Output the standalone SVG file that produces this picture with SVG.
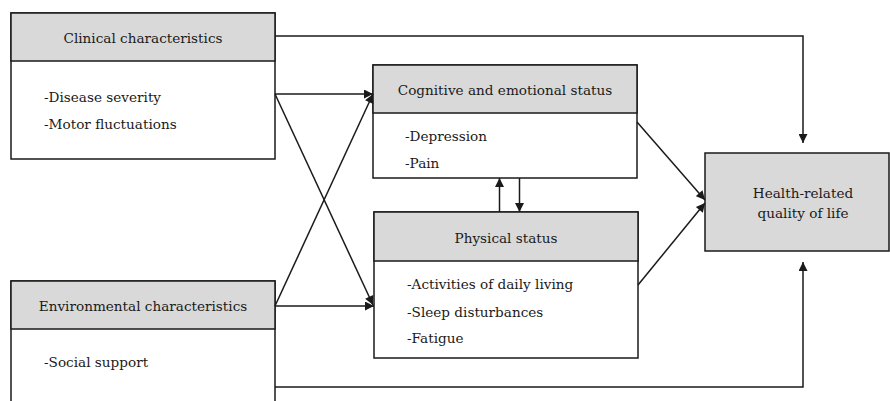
<svg xmlns="http://www.w3.org/2000/svg" width="890" height="401" viewBox="0 0 890 401">
<style>
.box{fill:#fff;stroke:#1a1a1a;stroke-width:1.5}
.hdr{fill:#d9d9d9;stroke:#1a1a1a;stroke-width:1.5}
.c{text-anchor:middle}
.ln{fill:none;stroke:#1a1a1a;stroke-width:1.5}
</style>
<defs>
<marker id="ah" viewBox="0 0 10 10" refX="10" refY="5" markerWidth="10" markerHeight="9" markerUnits="userSpaceOnUse" orient="auto">
<path d="M0,0 L10,5 L0,10 z" fill="#1a1a1a"/>
</marker>
</defs>
<rect width="890" height="401" fill="#fff"/>
<g font-family="DejaVu Serif, Liberation Serif, serif" font-size="13.6" fill="#1a1a1a">
<g id="clinical">
<rect class="box" x="11" y="13" width="264" height="146"/>
<rect class="hdr" x="11" y="13" width="264" height="48"/>
<text class="c" x="143" y="43">Clinical characteristics</text>
<text x="44" y="102">-Disease severity</text>
<text x="44" y="129">-Motor fluctuations</text>
</g>
<g id="environmental">
<rect class="box" x="11" y="281" width="264" height="130"/>
<rect class="hdr" x="11" y="281" width="264" height="48"/>
<text class="c" x="143" y="311">Environmental characteristics</text>
<text x="44" y="367">-Social support</text>
</g>
<g id="cognitive">
<rect class="box" x="373" y="65" width="264" height="113"/>
<rect class="hdr" x="373" y="65" width="264" height="48"/>
<text class="c" x="505" y="95">Cognitive and emotional status</text>
<text x="405" y="141">-Depression</text>
<text x="405" y="168">-Pain</text>
</g>
<g id="physical">
<rect class="box" x="374" y="212" width="264" height="146"/>
<rect class="hdr" x="374" y="212" width="264" height="49"/>
<text class="c" x="506" y="243">Physical status</text>
<text x="407" y="289">-Activities of daily living</text>
<text x="407" y="317">-Sleep disturbances</text>
<text x="407" y="343">-Fatigue</text>
</g>
<g id="hrqol">
<rect class="hdr" x="705" y="153" width="184" height="98"/>
<text class="c" x="803" y="198">Health-related</text>
<text class="c" x="803" y="218">quality of life</text>
</g>
</g>
<g id="connectors">
<path class="ln" d="M275,36 H803 V143" marker-end="url(#ah)"/>
<path class="ln" d="M275,387 H803 V262" marker-end="url(#ah)"/>
<path class="ln" d="M275,94 H373" marker-end="url(#ah)"/>
<path class="ln" d="M275,94 L373,305" marker-end="url(#ah)"/>
<path class="ln" d="M275,306 H374" marker-end="url(#ah)"/>
<path class="ln" d="M275,306 L373,94" marker-end="url(#ah)"/>
<path class="ln" d="M637,122 L705,200" marker-end="url(#ah)"/>
<path class="ln" d="M638,285 L705,203" marker-end="url(#ah)"/>
<path class="ln" d="M499.5,212 V178" marker-end="url(#ah)"/>
<path class="ln" d="M519.5,178 V212" marker-end="url(#ah)"/>
</g>
</svg>
